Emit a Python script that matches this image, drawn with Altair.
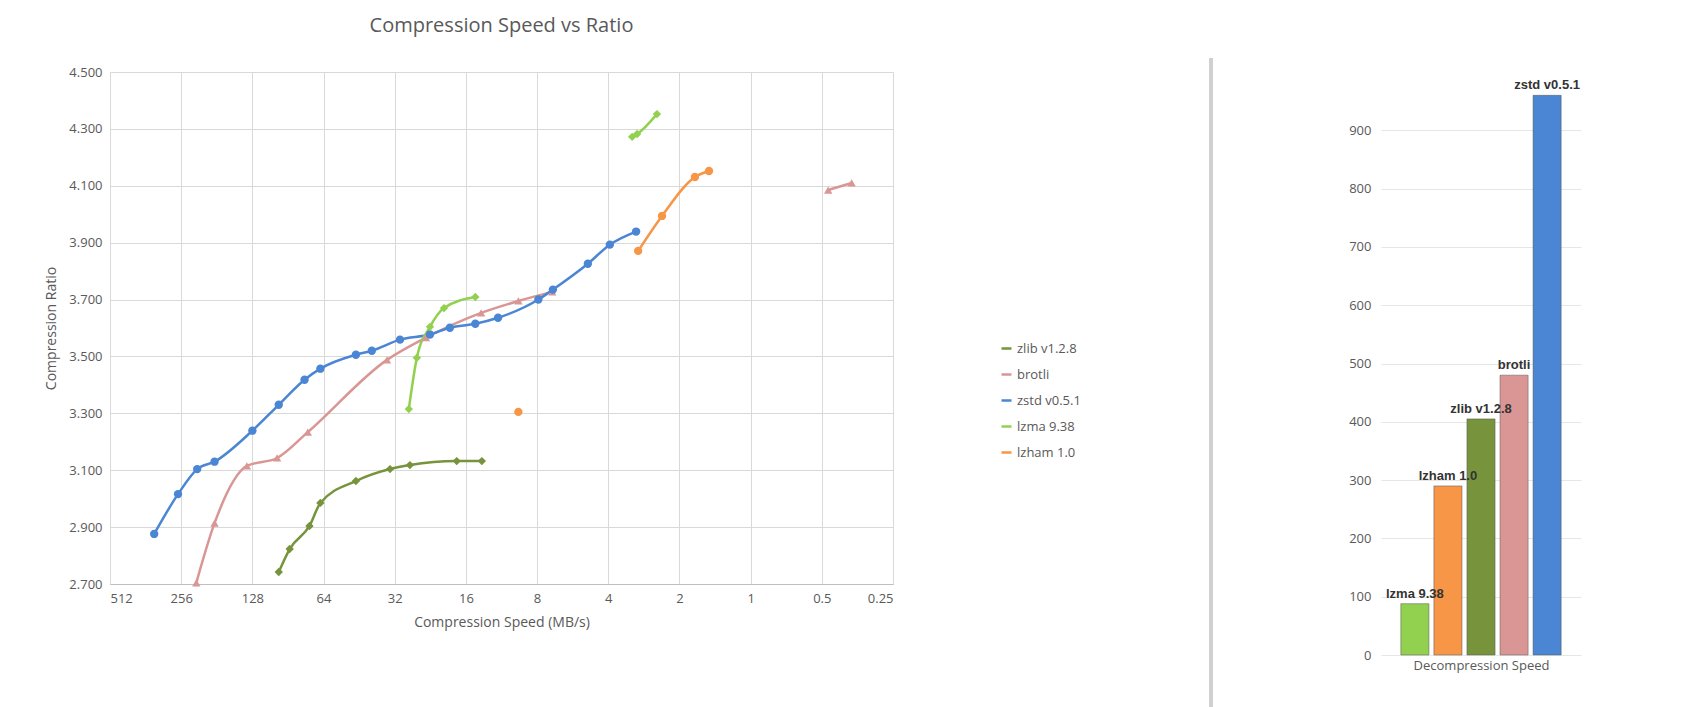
import pandas as pd
import altair as alt

# Compression speed (MB/s) and ratio
zlib_speed = [99, 89, 73.4, 66, 46.7, 33.5, 27.6, 17.5, 13.7]
zlib_ratio = [2.742, 2.823, 2.904, 2.985, 3.062, 3.104, 3.118, 3.132, 3.132]

brotli_speed = [221, 185, 135, 100.6, 74.6, 34.5, 23.6, 13.8, 9.6, 6.9, 0.47, 0.374]
brotli_ratio = [2.704, 2.914, 3.115, 3.143, 3.234, 3.488, 3.566, 3.653, 3.695, 3.727, 4.085, 4.110]
brotli_part = [0, 0, 0, 0, 0, 0, 0, 0, 0, 0, 1, 1]

zstd_speed = [333, 264, 219, 185, 128, 99, 77, 66, 46.7, 40, 30.4, 22.7, 18.7,
              14.6, 11.7, 7.9, 6.86, 4.88, 3.94, 3.05]
zstd_ratio = [2.876, 3.016, 3.104, 3.130, 3.239, 3.330, 3.418, 3.457, 3.506, 3.520,
              3.559, 3.577, 3.601, 3.615, 3.636, 3.700, 3.735, 3.826, 3.893, 3.939]

lzma_speed = [27.9, 25.8, 22.7, 19.8, 14.6, 3.17, 3.02, 2.49]
lzma_ratio = [3.315, 3.495, 3.604, 3.670, 3.709, 4.272, 4.282, 4.352]
lzma_part = [0, 0, 0, 0, 0, 1, 1, 1]

lzham_speed = [9.6, 2.99, 2.37, 1.72, 1.50]
lzham_ratio = [3.305, 3.871, 3.994, 4.131, 4.152]
lzham_part = [0, 1, 1, 1, 1]

# Decompression speed
dec_names = ["lzma 9.38", "lzham 1.0", "zlib v1.2.8", "brotli", "zstd v0.5.1"]
dec_speed = [88, 290, 405, 480, 960]

series = ["zlib v1.2.8", "brotli", "zstd v0.5.1", "lzma 9.38", "lzham 1.0"]
colors = ["#77933c", "#d99694", "#4a86d4", "#92d050", "#f79646"]
shapes = ["diamond", "triangle-up", "circle", "diamond", "circle"]

rows = []
def add(name, xs, ys, parts=None):
    for i, (a, b) in enumerate(zip(xs, ys)):
        rows.append({"codec": name, "speed": a, "ratio": b,
                     "part": f"{name}-{parts[i] if parts else 0}"})
add("zlib v1.2.8", zlib_speed, zlib_ratio)
add("brotli", brotli_speed, brotli_ratio, brotli_part)
add("zstd v0.5.1", zstd_speed, zstd_ratio)
add("lzma 9.38", lzma_speed, lzma_ratio, lzma_part)
add("lzham 1.0", lzham_speed, lzham_ratio, lzham_part)
df = pd.DataFrame(rows)

font = "Open Sans"
x = alt.X("speed:Q", scale=alt.Scale(type="log", base=2, domain=[512, 0.25], nice=False),
          axis=alt.Axis(values=[512, 256, 128, 64, 32, 16, 8, 4, 2, 1, 0.5, 0.25],
                        format="~g", title="Compression Speed (MB/s)", gridColor="#d9d9d9",
                        tickSize=0, domainColor="#bfbfbf", labelPadding=8, titlePadding=10))
y = alt.Y("ratio:Q", scale=alt.Scale(domain=[2.7, 4.5], nice=False),
          axis=alt.Axis(values=[2.7, 2.9, 3.1, 3.3, 3.5, 3.7, 3.9, 4.1, 4.3, 4.5],
                        format=".3f", title="Compression Ratio", gridColor="#d9d9d9",
                        tickSize=0, domain=False, labelPadding=8, titlePadding=10))
col = alt.Color("codec:N", scale=alt.Scale(domain=series, range=colors),
                legend=alt.Legend(title=None, symbolType="stroke", orient="none",
                                  legendX=890, legendY=270,
                                  labelFontSize=13, symbolStrokeWidth=2.5, rowPadding=12))

base = alt.Chart(df)
lines = base.mark_line(interpolate="monotone", strokeWidth=2.5).encode(
    x=x, y=y, color=col, detail="part:N")
points = base.mark_point(filled=True, size=70, opacity=1).encode(
    x=x, y=y, color=alt.Color("codec:N", scale=alt.Scale(domain=series, range=colors), legend=None),
    shape=alt.Shape("codec:N", scale=alt.Scale(domain=series, range=shapes), legend=None))
left = (lines + points).properties(
    width=783, height=512,
    title=alt.Title("Compression Speed vs Ratio", fontSize=20, fontWeight="normal",
                    color="#595959", font=font, offset=30))

bdf = pd.DataFrame({"name": dec_names, "speed": dec_speed})
bars = alt.Chart(bdf).mark_bar(stroke="#555", strokeWidth=0.5).encode(
    x=alt.X("name:N", sort=dec_names, scale=alt.Scale(paddingInner=0.15, paddingOuter=0.6),
            axis=alt.Axis(labels=False, ticks=False, domain=False, title="Decompression Speed",
                          titleFontWeight="normal", titleFontSize=13, titleColor="#595959")),
    y=alt.Y("speed:Q", scale=alt.Scale(domain=[0, 1000], nice=False),
            axis=alt.Axis(values=list(range(0, 1000, 100)), title=None, tickSize=0,
                          domain=False, gridColor="#e6e6e6", labelPadding=10)),
    color=alt.Color("name:N", scale=alt.Scale(domain=dec_names,
                    range=["#92d050", "#f79646", "#77933c", "#d99694", "#4f81bd"]), legend=None))
labels = alt.Chart(bdf).mark_text(dy=-10, fontWeight="bold", fontSize=13, color="#333").encode(
    x=alt.X("name:N", sort=dec_names), y="speed:Q", text="name:N")
sep = alt.Chart(bdf).mark_rule(color="#d0d0d0", strokeWidth=3).encode(
    x=alt.value(-170), y=alt.value(-14), y2=alt.value(650))
right = (sep + bars + labels).properties(width=200, height=583)

chart = alt.hconcat(left, right, spacing=315).properties(
    padding={"left": 36, "top": 8, "right": 5, "bottom": 5}
).configure_view(stroke=None).configure_axis(
    labelFont=font, titleFont=font, labelFontSize=13, titleFontSize=14,
    labelColor="#595959", titleColor="#595959", titleFontWeight="normal"
).configure_legend(labelFont=font, labelColor="#595959")

chart.save("out.html", embed_options={"renderer": "svg", "actions": False})
